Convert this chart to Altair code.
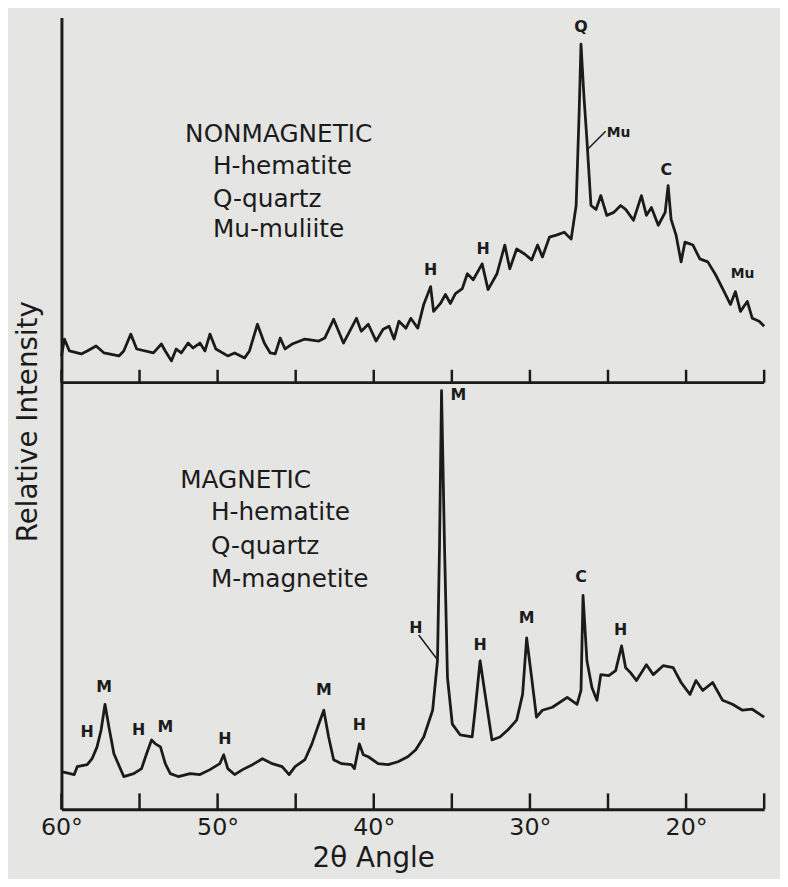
import altair as alt
import pandas as pd

# ---------------- data ----------------
# Upper trace: NONMAGNETIC fraction (2-theta in degrees, relative intensity)
nonmag_angle = [60.00, 59.81, 59.49, 58.73, 58.35, 57.78, 57.27, 56.32, 56.01, 55.56,
                55.18, 54.11, 53.60, 53.35, 52.96, 52.65, 52.33, 51.89, 51.57, 51.13,
                50.81, 50.49, 50.11, 49.35, 48.91, 48.27, 47.96, 47.45, 47.01, 46.63,
                46.31, 45.99, 45.68, 45.23, 44.73, 44.41, 43.52, 43.14, 42.57, 41.94,
                41.11, 40.80, 40.35, 39.85, 39.40, 39.02, 38.70, 38.39, 37.94, 37.63,
                37.18, 36.80, 36.36, 36.17, 35.73, 35.41, 35.09, 34.77, 34.33, 34.01,
                33.63, 33.06, 32.68, 32.11, 31.61, 31.29, 30.85, 30.34, 29.89, 29.51,
                29.20, 28.75, 28.31, 27.80, 27.36, 27.04, 26.85, 26.73, 26.54, 26.35,
                26.09, 25.77, 25.46, 25.08, 24.63, 24.19, 23.87, 23.37, 22.86, 22.54,
                22.22, 21.78, 21.34, 21.15, 20.96, 20.64, 20.32, 20.07, 19.56, 19.12,
                18.61, 18.11, 17.66, 17.16, 16.84, 16.52, 16.08, 15.76, 15.32, 15.00]
nonmag_int = [27, 44, 32, 29, 32, 37, 30, 27, 32, 49,
              34, 30, 39, 32, 22, 34, 30, 40, 35, 40,
              32, 49, 34, 27, 30, 25, 32, 59, 40, 30,
              29, 45, 34, 39, 42, 44, 42, 45, 64, 40,
              65, 52, 59, 42, 54, 57, 44, 62, 55, 65,
              55, 79, 97, 72, 80, 89, 80, 90, 95, 110,
              104, 120, 94, 110, 139, 115, 135, 130, 124, 139,
              127, 147, 149, 152, 145, 179, 272, 342, 289, 245,
              179, 175, 189, 169, 172, 179, 175, 164, 189, 169,
              177, 159, 172, 199, 165, 149, 122, 142, 139, 125,
              122, 109, 95, 79, 92, 72, 82, 65, 62, 57]

# Lower trace: MAGNETIC fraction
mag_angle = [60.00, 59.18, 58.99, 58.35, 58.04, 57.72, 57.46, 57.21, 56.96, 56.64,
             56.01, 55.37, 54.87, 54.55, 54.23, 53.98, 53.66, 53.35, 53.03, 52.52,
             51.76, 51.13, 50.49, 49.86, 49.61, 49.35, 48.91, 48.40, 47.77, 47.13,
             46.50, 45.87, 45.42, 45.04, 44.41, 43.96, 43.52, 43.20, 42.89, 42.57,
             42.06, 41.43, 41.24, 40.92, 40.67, 40.35, 39.72, 39.08, 38.45, 37.82,
             37.31, 36.80, 36.23, 35.92, 35.79, 35.66, 35.47, 35.28, 34.97, 34.46,
             33.70, 33.51, 33.19, 32.87, 32.43, 31.92, 31.42, 30.85, 30.47, 30.21,
             29.89, 29.58, 29.20, 28.56, 27.61, 26.98, 26.73, 26.60, 26.35, 26.03,
             25.71, 25.46, 24.95, 24.51, 24.13, 23.87, 23.56, 23.18, 22.54, 22.10,
             21.47, 20.83, 20.32, 19.75, 19.37, 18.93, 18.30, 17.66, 17.03, 16.39,
             15.76, 15.00]
mag_int = [38, 35, 43, 45, 51, 63, 80, 106, 83, 56,
           33, 36, 41, 56, 70, 66, 63, 46, 36, 33,
           36, 35, 40, 46, 55, 41, 35, 40, 45, 51,
           46, 43, 35, 43, 50, 66, 86, 100, 73, 50,
           46, 45, 41, 66, 55, 53, 46, 45, 48, 53,
           60, 73, 100, 150, 266, 423, 266, 133, 86, 75,
           73, 100, 150, 116, 70, 73, 80, 90, 116, 173,
           133, 93, 100, 103, 113, 106, 120, 216, 150, 123,
           110, 136, 135, 140, 165, 143, 138, 130, 146, 136,
           145, 143, 128, 116, 130, 120, 128, 110, 106, 100,
           101, 93]

# vertical offset of the upper (nonmagnetic) panel baseline, in intensity units
TOP_OFFSET = 431

# axis ticks / labels
tick_angles = [60, 55, 50, 45, 40, 35, 30, 25, 20, 15]
label_angles = [60, 50, 40, 30, 20]

# peak identifications, upper trace
top_peak_text = ["H", "H", "Q", "C"]
top_peak_angle = [36.36, 33.00, 26.73, 21.27]
top_peak_int = [114, 135, 359, 215]
top_minor_text = ["Mu", "Mu"]
top_minor_angle = [24.32, 16.39]
top_minor_int = [252, 110]

# peak identifications, lower trace
bot_peak_text = ["H", "M", "H", "M", "H", "M", "H", "H", "M", "H", "M", "C", "H"]
bot_peak_angle = [58.35, 57.27, 55.06, 53.35, 49.54, 43.20, 40.92, 37.31, 34.58, 33.19, 30.21, 26.73, 24.19]
bot_peak_int = [78, 123, 80, 83, 71, 120, 85, 183, 418, 166, 193, 235, 181]

# leader lines (angle, intensity pairs)
top_leader_angle = [26.35, 25.15]
top_leader_int = [235, 254]
bot_leader_angle = [37.12, 35.92]
bot_leader_int = [176, 151]

# legend texts
top_legend_text = ["NONMAGNETIC", "H-hematite", "Q-quartz", "Mu-muliite"]
top_legend_angle = [52.08, 50.30, 50.30, 50.30]
top_legend_int = [251, 219, 185, 155]
bot_legend_text = ["MAGNETIC", "H-hematite", "Q-quartz", "M-magnetite"]
bot_legend_angle = [52.39, 50.43, 50.43, 50.43]
bot_legend_int = [333, 300, 266, 233]

# ---------------- chart ----------------
INK = "#1b1b1b"
FONT = "DejaVu Sans"

xs = alt.Scale(domain=[15, 60], reverse=True, nice=False, zero=False)
ys = alt.Scale(domain=[0, 800], nice=False, zero=True)

x_axis = alt.Axis(values=label_angles, labelExpr="datum.value + '°'", ticks=False, tickSize=0,
                  grid=False, domainColor=INK, domainWidth=3, labelFont=FONT, labelFontSize=24,
                  labelColor=INK, labelPadding=19, labelBaseline="middle", labelFlush=False,
                  titleFont=FONT, titleFontSize=28, titleFontWeight="normal", titleColor=INK,
                  titleX=315, titleY=50, titleBaseline="middle", titleAlign="center")
y_axis = alt.Axis(labels=False, ticks=False, grid=False, domainColor=INK, domainWidth=3,
                  titleFont=FONT, titleFontSize=28, titleFontWeight="normal", titleColor=INK,
                  titleX=-33, titleY=408, titleAngle=270, titleAlign="center", titleBaseline="middle")


def X(field="angle"):
    return alt.X(f"{field}:Q", scale=xs, axis=x_axis, title="2θ Angle")


def Y(field="v"):
    return alt.Y(f"{field}:Q", scale=ys, axis=y_axis, title="Relative Intensity")


mag_df = pd.DataFrame({"angle": mag_angle, "v": mag_int})
nonmag_df = pd.DataFrame({"angle": nonmag_angle, "i": nonmag_int})

line_mag = alt.Chart(mag_df).mark_line(color=INK, strokeWidth=2.8, strokeJoin="round").encode(
    x=X(), y=Y(), order="angle:Q")
line_nonmag = alt.Chart(nonmag_df).transform_calculate(
    v=f"datum.i + {TOP_OFFSET}").mark_line(color=INK, strokeWidth=2.8, strokeJoin="round").encode(
    x=X(), y=Y(), order="angle:Q")

# separator (x axis of the upper panel)
sep_df = pd.DataFrame({"angle": [60], "angle2": [15], "v": [TOP_OFFSET]})
separator = alt.Chart(sep_df).mark_rule(color=INK, strokeWidth=3).encode(
    x=X(), x2="angle2:Q", y=Y())

# inward ticks on both panels
ticks_df = pd.DataFrame({
    "angle": tick_angles * 2,
    "v": [0] * len(tick_angles) + [TOP_OFFSET] * len(tick_angles),
    "v2": [16] * len(tick_angles) + [TOP_OFFSET + 13] * len(tick_angles),
})
ticks = alt.Chart(ticks_df).mark_rule(color=INK, strokeWidth=2.5).encode(
    x=X(), y=Y(), y2="v2:Q")

# leader lines
lead_top = alt.Chart(pd.DataFrame({"angle": top_leader_angle, "i": top_leader_int})).transform_calculate(
    v=f"datum.i + {TOP_OFFSET}").mark_line(color=INK, strokeWidth=1.5).encode(x=X(), y=Y())
lead_bot = alt.Chart(pd.DataFrame({"angle": bot_leader_angle, "v": bot_leader_int})).mark_line(
    color=INK, strokeWidth=1.5).encode(x=X(), y=Y())

# peak labels
top_peaks = alt.Chart(pd.DataFrame({"angle": top_peak_angle, "i": top_peak_int, "t": top_peak_text})
                      ).transform_calculate(v=f"datum.i + {TOP_OFFSET}").mark_text(
    font=FONT, fontSize=16, fontWeight="bold", color=INK, align="center", baseline="middle").encode(
    x=X(), y=Y(), text="t:N")
top_minor = alt.Chart(pd.DataFrame({"angle": top_minor_angle, "i": top_minor_int, "t": top_minor_text})
                      ).transform_calculate(v=f"datum.i + {TOP_OFFSET}").mark_text(
    font=FONT, fontSize=14, fontWeight="bold", color=INK, align="center", baseline="middle").encode(
    x=X(), y=Y(), text="t:N")
bot_peaks = alt.Chart(pd.DataFrame({"angle": bot_peak_angle, "v": bot_peak_int, "t": bot_peak_text})
                      ).mark_text(font=FONT, fontSize=16, fontWeight="bold", color=INK,
                                  align="center", baseline="middle").encode(x=X(), y=Y(), text="t:N")

# legends
top_leg = alt.Chart(pd.DataFrame({"angle": top_legend_angle, "i": top_legend_int, "t": top_legend_text})
                    ).transform_calculate(v=f"datum.i + {TOP_OFFSET}").mark_text(
    font=FONT, fontSize=25, color=INK, align="left", baseline="middle").encode(
    x=X(), y=Y(), text="t:N")
bot_leg = alt.Chart(pd.DataFrame({"angle": bot_legend_angle, "v": bot_legend_int, "t": bot_legend_text})
                    ).mark_text(font=FONT, fontSize=25, color=INK, align="left", baseline="middle").encode(
    x=X(), y=Y(), text="t:N")

chart = alt.layer(
    separator, ticks, line_mag, line_nonmag, lead_top, lead_bot,
    top_peaks, top_minor, bot_peaks, top_leg, bot_leg
).properties(
    width=710, height=800,
    autosize=alt.AutoSizeParams(type="none"),
    padding={"left": 54, "top": 5, "right": 16, "bottom": 66},
    background="#e5e5e3",
).configure_view(stroke=None)

chart.save("out.html", embed_options={"renderer": "svg", "actions": False})
